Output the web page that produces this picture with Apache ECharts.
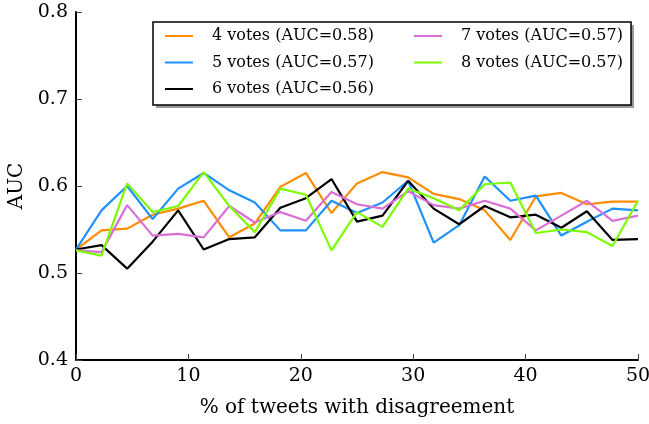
<!DOCTYPE html>
<html>
<head>
<meta charset="utf-8">
<script src="https://cdn.jsdelivr.net/npm/echarts@6/dist/echarts.min.js"></script>
<style>
  html, body { margin: 0; padding: 0; background: #fff; }
  #chart { width: 649px; height: 424px; }
</style>
</head>
<body>
<div id="chart"></div>
<script>
// % of tweets with disagreement
const xValues = [0, 2.27, 4.55, 6.82, 9.09, 11.36, 13.64, 15.91, 18.18, 20.45, 22.73, 25,
  27.27, 29.55, 31.82, 34.09, 36.36, 38.64, 40.91, 43.18, 45.45, 47.73, 50]

const votes4 = [0.527, 0.549, 0.551, 0.567, 0.574, 0.583, 0.541, 0.557, 0.599, 0.615, 0.569, 0.603,
  0.616, 0.610, 0.591, 0.585, 0.572, 0.538, 0.588, 0.592, 0.579, 0.582, 0.582]
const votes5 = [0.527, 0.572, 0.600, 0.562, 0.597, 0.615, 0.595, 0.581, 0.549, 0.549, 0.583, 0.569,
  0.581, 0.606, 0.535, 0.555, 0.611, 0.583, 0.589, 0.543, 0.559, 0.574, 0.572]
const votes6 = [0.527, 0.532, 0.505, 0.536, 0.572, 0.527, 0.539, 0.541, 0.575, 0.586, 0.608, 0.559,
  0.566, 0.606, 0.574, 0.556, 0.577, 0.564, 0.567, 0.552, 0.571, 0.538, 0.539]
const votes7 = [0.526, 0.524, 0.578, 0.543, 0.545, 0.541, 0.577, 0.558, 0.570, 0.560, 0.593, 0.579,
  0.574, 0.594, 0.578, 0.574, 0.583, 0.574, 0.549, 0.566, 0.583, 0.560, 0.566]
const votes8 = [0.526, 0.520, 0.603, 0.570, 0.577, 0.616, 0.577, 0.547, 0.597, 0.590, 0.526, 0.570,
  0.553, 0.597, 0.586, 0.572, 0.602, 0.604, 0.546, 0.550, 0.547, 0.531, 0.583]

const seriesNames = ['4 votes (AUC=0.58)', '5 votes (AUC=0.57)', '6 votes (AUC=0.56)',
  '7 votes (AUC=0.57)', '8 votes (AUC=0.57)']
const seriesValues = [votes4, votes5, votes6, votes7, votes8]
const seriesColors = ['#ff8c00', '#1e90ff', '#000000', '#da70d6', '#7cfc00']

const font = '"DejaVu Serif", "Liberation Serif", serif'

const chart = echarts.init(document.getElementById('chart'))

const legendBase = {
  orient: 'vertical',
  top: 21,
  icon: 'rect',
  itemWidth: 28,
  itemHeight: 2,
  itemGap: 6.5,
  textStyle: { fontFamily: font, fontSize: 16, color: '#000', lineHeight: 20, padding: [0, 0, 0, 14] }
}

chart.setOption({
  animation: false,
  backgroundColor: '#fff',
  grid: { left: 76, right: 11, top: 12, bottom: 64, outerBoundsMode: 'none' },
  graphic: [
    // legend shadow, then the frame on top of it
    {
      type: 'rect',
      shape: { x: 156, y: 25, width: 478, height: 83 },
      style: { fill: '#9a9a9a' },
      z: 10
    },
    {
      type: 'rect',
      shape: { x: 153, y: 22, width: 478, height: 83 },
      style: { fill: '#fff', stroke: '#000', lineWidth: 1.5 },
      z: 11
    }
  ],
  legend: [
    Object.assign({}, legendBase, { left: 160, data: seriesNames.slice(0, 3), z: 20 }),
    Object.assign({}, legendBase, { left: 409, data: seriesNames.slice(3), z: 20 })
  ],
  xAxis: {
    type: 'value',
    min: 0,
    max: 50,
    interval: 10,
    name: '% of tweets with disagreement',
    nameLocation: 'middle',
    nameGap: 38,
    nameTextStyle: { fontFamily: font, fontSize: 20, color: '#000' },
    axisLine: { lineStyle: { color: '#000', width: 2 } },
    axisTick: { inside: true, length: 6, lineStyle: { color: '#444', width: 1 } },
    axisLabel: { fontFamily: font, fontSize: 19, color: '#000', margin: 7 },
    splitLine: { show: false }
  },
  yAxis: {
    type: 'value',
    min: 0.4,
    max: 0.8,
    interval: 0.1,
    name: 'AUC',
    nameLocation: 'middle',
    nameGap: 49,
    nameRotate: 90,
    nameTextStyle: { fontFamily: font, fontSize: 20, color: '#000' },
    axisLine: { show: true, lineStyle: { color: '#000', width: 2 } },
    axisTick: { show: true, inside: true, length: 6, lineStyle: { color: '#444', width: 1 } },
    axisLabel: { fontFamily: font, fontSize: 19, color: '#000', margin: 8, formatter: v => v.toFixed(1) },
    splitLine: { show: false }
  },
  series: seriesValues.map((vals, k) => ({
    name: seriesNames[k],
    type: 'line',
    showSymbol: false,
    symbol: 'none',
    color: seriesColors[k],
    lineStyle: { width: 2.2, color: seriesColors[k] },
    data: vals.map((v, i) => [xValues[i], v])
  }))
})
</script>
</body>
</html>
